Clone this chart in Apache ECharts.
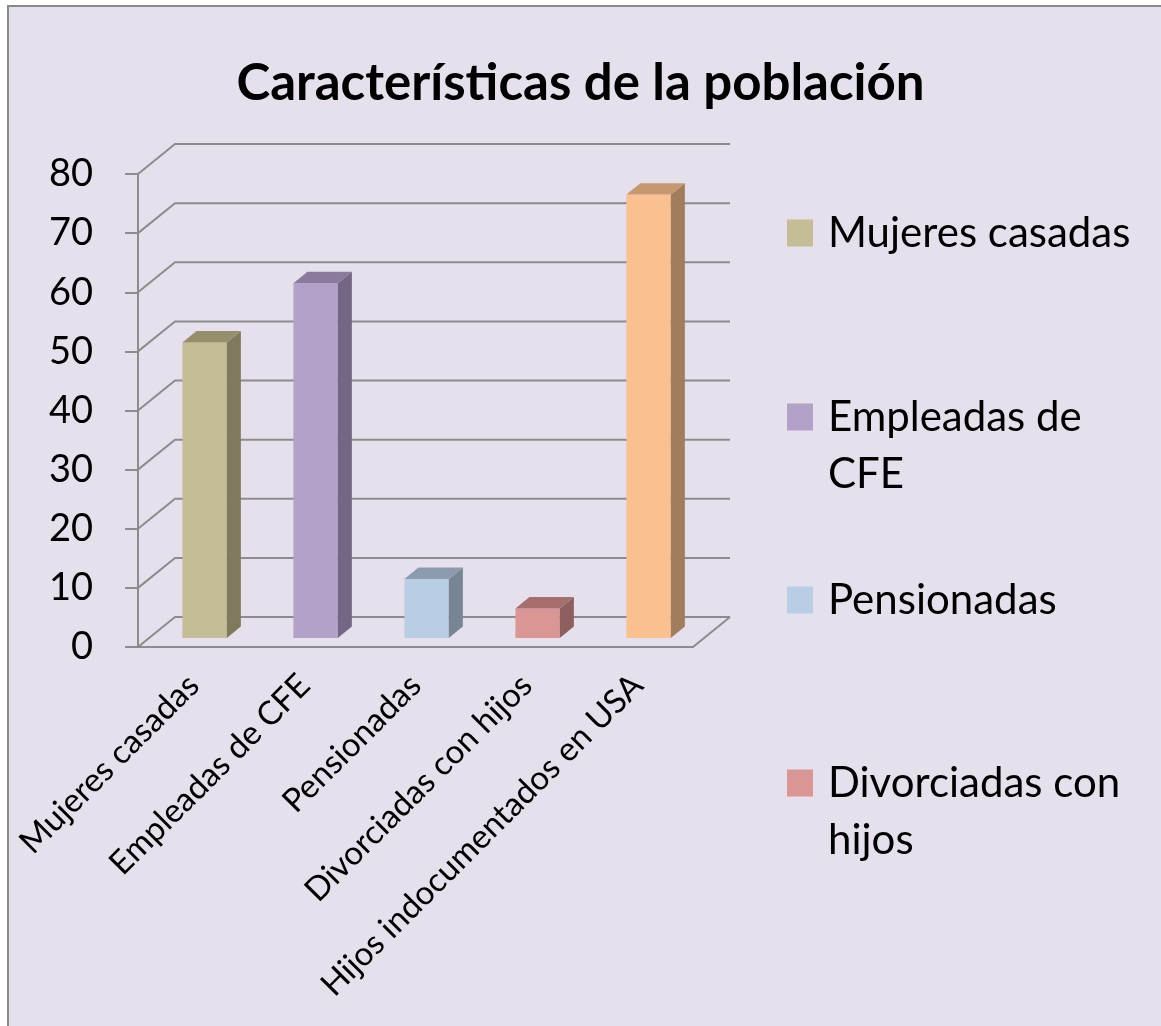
<!DOCTYPE html>
<html>
<head>
<meta charset="utf-8">
<script src="https://cdn.jsdelivr.net/npm/echarts@6/dist/echarts.min.js"></script>
<style>
html, body { margin: 0; padding: 0; background: #fff; }
#chart { width: 1161px; height: 1026px; }
</style>
</head>
<body>
<div id="chart"></div>
<script>
var categories = ['Mujeres casadas', 'Empleadas de CFE', 'Pensionadas', 'Divorciadas con hijos', 'Hijos indocumentados en USA'];
var values = [50, 60, 10, 5, 75];
var yTicks = [0, 10, 20, 30, 40, 50, 60, 70, 80];
// only 4 entries fit in the legend box of the original
var legendShown = ['Mujeres casadas', 'Empleadas de CFE', 'Pensionadas', 'Divorciadas con hijos'];
// leading empty line keeps the square level with the first line
var legendText = ['Mujeres casadas', '\nEmpleadas de\nCFE', 'Pensionadas', '\nDivorciadas con\nhijos'];

var frontColors = ['#C4BD97', '#B3A2C7', '#B9CDE5', '#D99694', '#FAC090'];
var sideColors = ['#7F7A5E', '#746785', '#788597', '#8D5F5E', '#A27D5D'];
var topColors = ['#958F6E', '#8A7B9C', '#8C9BAE', '#A56F6D', '#C6986F'];

var gridColor = '#8C8C8C';
var DX = 37, DY = -30;      // depth of the 3d box
var font = 'Lato, "Open Sans", sans-serif';

var chart = echarts.init(document.getElementById('chart'));

function wallItem(params, api) {
  var cs = params.coordSys;
  var v = api.value(1);
  var y = api.coord([0, v])[1];
  var x0 = cs.x, x1 = cs.x + cs.width;
  var kids = [{
    type: 'polyline',
    shape: { points: [[x0, y], [x0 + DX, y + DY], [x1 + DX, y + DY]] },
    style: { stroke: gridColor, lineWidth: 2, fill: null }
  }];
  if (v === 0) {
    kids.push({
      type: 'line',
      shape: { x1: x1, y1: y, x2: x1 + DX, y2: y + DY },
      style: { stroke: gridColor, lineWidth: 2 }
    });
  }
  return { type: 'group', children: kids };
}

function barItem(i) {
  return function (params, api) {
    var p0 = api.coord([api.value(0), 0]);
    var p1 = api.coord([api.value(0), api.value(1)]);
    var band = api.size([1, 0])[0];
    var half = band * 0.2;
    var sx = DX * 0.3, sy = DY * 0.3;
    var bx = DX * 0.38, by = DY * 0.38;
    var cx = p0[0] + sx;
    var xl = cx - half, xr = cx + half;
    var yb = p0[1] + sy, yt = p1[1] + sy;
    return {
      type: 'group',
      children: [
        { type: 'rect', shape: { x: xl, y: yt, width: xr - xl, height: yb - yt }, style: { fill: frontColors[i] } },
        { type: 'polygon', shape: { points: [[xr, yb], [xr, yt], [xr + bx, yt + by], [xr + bx, yb + by]] }, style: { fill: sideColors[i] } },
        { type: 'polygon', shape: { points: [[xl, yt], [xr, yt], [xr + bx, yt + by], [xl + bx, yt + by]] }, style: { fill: topColors[i] } }
      ]
    };
  };
}

var series = [{
  type: 'custom',
  silent: true,
  z: 1,
  data: yTicks.map(function (v) { return [0, v]; }),
  renderItem: wallItem
}];
categories.forEach(function (c, i) {
  series.push({
    type: 'custom',
    name: c,
    z: 3,
    itemStyle: { color: frontColors[i] },
    data: [[i, values[i]]],
    renderItem: barItem(i)
  });
});

var legendCenters = [233, 417, 600, 783];
var legends = legendShown.map(function (name, i) {
  var lines = legendText[i].split('\n').length;
  return {
    data: [name],
    orient: 'vertical',
    left: 787,
    top: legendCenters[i] - lines * 57 / 2,
    padding: 0,
    itemWidth: 26,
    itemHeight: 27,
    icon: 'rect',
    selectedMode: false,
    formatter: function () { return legendText[i]; },
    textStyle: {
      fontFamily: font,
      fontSize: 42,
      color: '#000',
      lineHeight: 57,
      padding: [0, 0, 0, 10]
    }
  };
});

chart.setOption({
  backgroundColor: '#fff',
  graphic: [{
    type: 'rect',
    z: -10,
    silent: true,
    shape: { x: 8, y: 6, width: 1200, height: 1100 },
    style: { fill: '#E5E0EC', stroke: '#8A8A8A', lineWidth: 2 }
  }],
  title: {
    text: 'Características de la población',
    left: 'center',
    top: 58,
    padding: [0, 0, 0, 13],
    textStyle: { fontFamily: font, fontSize: 51, fontWeight: 'bold', color: '#000' }
  },
  legend: legends,
  grid: { left: 138, right: 468, top: 174, bottom: 379 },
  xAxis: {
    type: 'category',
    data: categories,
    axisLine: { lineStyle: { color: gridColor, width: 2 } },
    axisTick: { length: 10, lineStyle: { color: gridColor, width: 2 } },
    axisLabel: { interval: 0, rotate: 45, margin: 33, fontFamily: font, fontSize: 33, color: '#000' }
  },
  yAxis: {
    type: 'value',
    min: 0,
    max: 80,
    interval: 10,
    axisLine: { show: true, lineStyle: { color: gridColor, width: 2 } },
    axisTick: { show: true, length: 13, lineStyle: { color: gridColor, width: 2 } },
    axisLabel: { margin: 45, fontFamily: font, fontSize: 38, color: '#000' },
    splitLine: { show: false }
  },
  series: series
});
</script>
</body>
</html>
